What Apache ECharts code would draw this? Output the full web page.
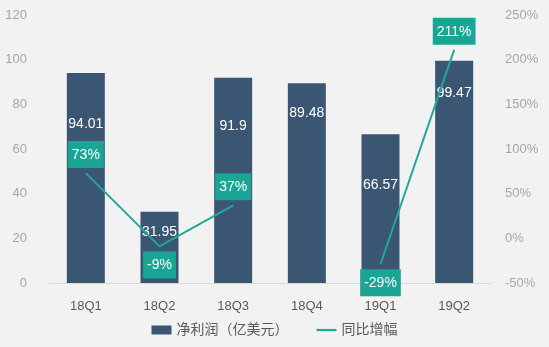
<!DOCTYPE html>
<html><head><meta charset="utf-8">
<script src="https://cdn.jsdelivr.net/npm/echarts@6/dist/echarts.min.js"></script>
<style>html,body{margin:0;padding:0;background:#f2f2f2}#c{width:549px;height:347px}</style>
</head><body><div id="c"></div>
<script>
const categories = ['18Q1','18Q2','18Q3','18Q4','19Q1','19Q2'];
const netProfit = [94.01, 31.95, 91.9, 89.48, 66.57, 99.47];
const yoyGrowth = [73, -9, 37, null, -29, 211];
const leftTicks = [0, 20, 40, 60, 80, 100, 120];
const rightTicks = [-50, 0, 50, 100, 150, 200, 250];

// label styling (offsets from top of bar, placement of growth labels)
const barLabelOffsets = [50, 19, 47, 29, 50, 31];
const lineLabelPos = ['top', 'bottom', 'top', 'top', 'bottom', 'top'];

const chart = echarts.init(document.getElementById('c'));
const font = 'Arial, "Liberation Sans", "Noto Sans CJK SC", sans-serif';
chart.setOption({
  backgroundColor: '#f2f2f2',
  textStyle: {fontFamily: font},
  grid: {left: 49, right: 58, top: 15, bottom: 64},
  legend: {
    bottom: 5, left: 'center', itemGap: 28, itemWidth: 20, itemHeight: 9,
    textStyle: {color: '#595959', fontSize: 14, fontFamily: font},
    data: [{name: '净利润（亿美元）', icon: 'rect'},
           {name: '同比增幅', icon: 'path://M0,4 L20,4 L20,6.2 L0,6.2 Z', itemStyle: {color: '#22a89a'}}]
  },
  xAxis: {
    type: 'category', data: categories,
    axisLine: {lineStyle: {color: '#d9d9d9'}},
    axisTick: {show: false},
    axisLabel: {color: '#595959', fontSize: 13, margin: 17}
  },
  yAxis: [{
    type: 'value', min: leftTicks[0], max: leftTicks[leftTicks.length-1], interval: 20,
    splitLine: {show: false}, axisLine: {show: false}, axisTick: {show: false},
    axisLabel: {color: '#a6a6a6', fontSize: 13, margin: 22}
  }, {
    type: 'value', min: rightTicks[0], max: rightTicks[rightTicks.length-1], interval: 50,
    splitLine: {show: false}, axisLine: {show: false}, axisTick: {show: false},
    axisLabel: {color: '#a6a6a6', fontSize: 13, margin: 14, formatter: v => v + '%'}
  }],
  series: [{
    name: '净利润（亿美元）', type: 'bar', barWidth: 38,
    itemStyle: {color: '#3a5673'},
    data: netProfit.map((v, i) => ({
      value: v,
      label: {show: true, position: 'insideTop', distance: 0, offset: [0, barLabelOffsets[i] - 6],
        color: '#fff', fontSize: 14}
    }))
  }, {
    name: '同比增幅', type: 'line', yAxisIndex: 1, symbol: 'circle', symbolSize: 0.01, showSymbol: true,
    lineStyle: {color: '#22a89a', width: 2}, itemStyle: {color: '#22a89a'},
    connectNulls: false, z: 5,
    data: yoyGrowth.map((v, i) => ({
      value: v,
      label: {show: v !== null, position: lineLabelPos[i], distance: 5,
        formatter: p => p.value + '%', color: '#fff', fontSize: 14,
        backgroundColor: '#1aa595', padding: [7, 4, 6, 4]}
    }))
  }]
});
</script></body></html>
